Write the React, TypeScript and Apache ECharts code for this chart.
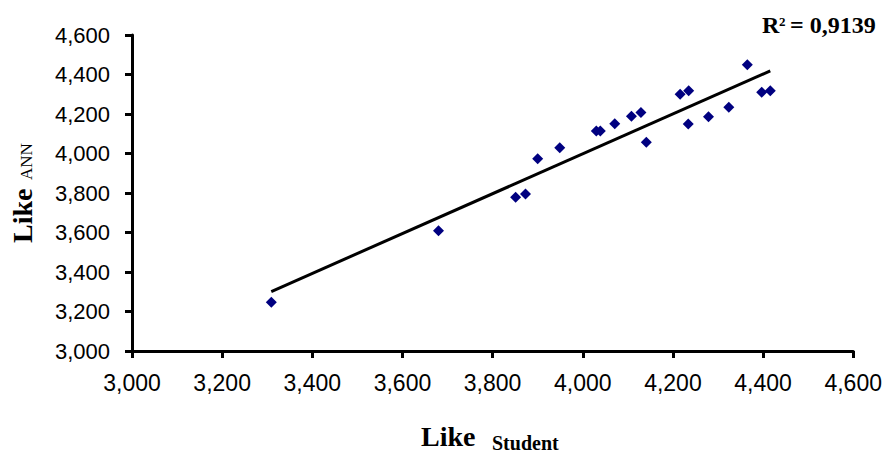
import React, { useEffect, useRef } from "react";
import * as echarts from "echarts";

const likeStudent = [3309, 3680, 3851, 3873, 3900, 3949, 4030, 4039, 4071, 4108, 4129, 4141, 4216, 4235, 4234, 4279, 4324, 4365, 4397, 4416];
const likeANN = [3247, 3609, 3778, 3795, 3974, 4029, 4114, 4114, 4151, 4188, 4207, 4057, 4300, 4318, 4149, 4186, 4234, 4450, 4310, 4318];
const axisMin = 3000;
const axisMax = 4600;
const axisStep = 200;
const r2Text = "0,9139";

const SERIF = "'Liberation Serif', 'Times New Roman', serif";
const SANS = "'Liberation Sans', Arial, sans-serif";

function fmt(v: number): string {
  const s = String(Math.round(v));
  return s.length > 3 ? s.slice(0, s.length - 3) + "," + s.slice(-3) : s;
}

export default function App() {
  const ref = useRef<HTMLDivElement>(null);
  useEffect(() => {
    if (!ref.current) return;
    const chart = echarts.init(ref.current, undefined, { renderer: "svg" });
    const n = likeStudent.length;
    const mx = likeStudent.reduce((a, b) => a + b, 0) / n;
    const my = likeANN.reduce((a, b) => a + b, 0) / n;
    let sxy = 0, sxx = 0;
    for (let i = 0; i < n; i++) {
      sxy += (likeStudent[i] - mx) * (likeANN[i] - my);
      sxx += (likeStudent[i] - mx) ** 2;
    }
    const slope = sxy / sxx;
    const icpt = my - slope * mx;
    const x0 = Math.min(...likeStudent);
    const x1 = Math.max(...likeStudent);
    const trend = [[x0, icpt + slope * x0], [x1, icpt + slope * x1]];
    const pts = likeStudent.map((x, i) => [x, likeANN[i]]);

    const axisCommon = {
      type: "value" as const,
      min: axisMin,
      max: axisMax,
      interval: axisStep,
      splitLine: { show: false },
      axisLine: { show: true, onZero: false, lineStyle: { color: "#000", width: 3 } },
      axisTick: { show: true, inside: false, length: 7, lineStyle: { color: "#000", width: 3 } },
    };

    chart.setOption({
      animation: false,
      backgroundColor: "#fff",
      grid: { left: 132, right: 30, top: 35, bottom: 101, containLabel: false },
      xAxis: {
        ...axisCommon,
        axisLabel: { color: "#000", fontFamily: SANS, fontSize: 23, margin: 20, formatter: fmt },
      },
      yAxis: {
        ...axisCommon,
        axisLabel: { color: "#000", fontFamily: SANS, fontSize: 22, margin: 22, formatter: fmt },
      },
      series: [
        {
          type: "scatter",
          data: pts,
          symbol: "diamond",
          symbolSize: 11,
          itemStyle: { color: "#000080", opacity: 1 },
          z: 2,
        },
        {
          type: "line",
          data: trend,
          symbol: "none",
          lineStyle: { color: "#000", width: 3 },
          z: 3,
        },
      ],
      graphic: [
        {
          type: "group",
          x: 32,
          y: 243,
          rotation: Math.PI / 2,
          children: [
            {
              type: "text",
              x: 0,
              y: -9.5,
              style: { text: "Like", font: `bold 28px ${SERIF}`, fill: "#000", textAlign: "left", textVerticalAlign: "middle" },
            },
            {
              type: "text",
              x: 63,
              y: -6,
              style: { text: "ANN", font: `17px ${SERIF}`, fill: "#000", textAlign: "left", textVerticalAlign: "middle" },
            },
          ],
        },
        {
          type: "text",
          x: 421,
          y: 436.5,
          style: { text: "Like", font: `bold 28px ${SERIF}`, fill: "#000", textAlign: "left", textVerticalAlign: "middle" },
        },
        {
          type: "text",
          x: 492,
          y: 442.5,
          style: { text: "Student", font: `bold 20px ${SERIF}`, fill: "#000", textAlign: "left", textVerticalAlign: "middle" },
        },
        {
          type: "text",
          x: 762,
          y: 25,
          style: { text: "R", font: `bold 24px ${SERIF}`, fill: "#000", textAlign: "left", textVerticalAlign: "middle" },
        },
        {
          type: "text",
          x: 779,
          y: 21.5,
          style: { text: "2", font: `bold 13px ${SERIF}`, fill: "#000", textAlign: "left", textVerticalAlign: "middle" },
        },
        {
          type: "text",
          x: 790,
          y: 25,
          style: { text: "= " + r2Text, font: `bold 24px ${SERIF}`, fill: "#000", textAlign: "left", textVerticalAlign: "middle" },
        },
      ],
    });
    return () => chart.dispose();
  }, []);
  return (
    <div
      ref={ref}
      style={{ position: "fixed", left: 0, top: 0, width: 885, height: 452, background: "#fff" }}
    />
  );
}
